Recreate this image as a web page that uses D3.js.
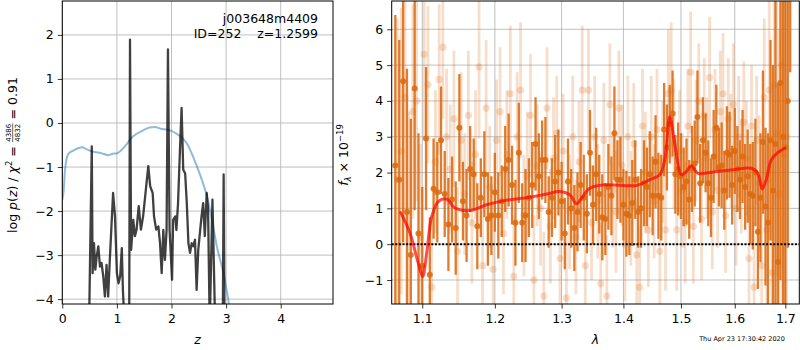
<!DOCTYPE html>
<html>
<head>
<meta charset="utf-8">
<script src="https://cdn.jsdelivr.net/npm/d3@7"></script>
<style>
  body { margin: 0; background: #fff; }
  svg { font-family: 'DejaVu Sans', sans-serif; }
  svg text { white-space: pre; }
</style>
</head>
<body>
<svg id="chart" width="800" height="350"></svg>
<script>
// ---- left panel: log p(z) and prior ----
const pzZ = [0.49, 0.54, 0.555, 0.58, 0.605, 0.63, 0.66, 0.69, 0.72, 0.75, 0.78, 0.81, 0.84, 0.87,
  0.93, 0.965, 1.0, 1.03, 1.06, 1.09, 1.11, 1.14, 1.225, 1.24, 1.26, 1.30, 1.33, 1.36, 1.40, 1.44,
  1.48, 1.53, 1.575, 1.61, 1.655, 1.68, 1.72, 1.76, 1.79, 1.82, 1.85, 1.88, 1.91, 1.935, 1.965,
  2.01, 2.03, 2.07, 2.09, 2.12, 2.155, 2.185, 2.215, 2.25, 2.28, 2.31, 2.34, 2.37, 2.40, 2.43,
  2.46, 2.49, 2.55, 2.58, 2.61, 2.645, 2.67, 2.70, 2.75, 2.80, 2.94, 2.955, 2.97];
const pzLog = [-4.6, -0.53, -3.41, -2.73, -3.33, -3.03, -2.80, -3.26, -3.18, -3.48, -3.94, -3.22, -3.94, -3.11,
  -1.59, -2.12, -3.41, -3.64, -3.48, -2.84, -3.79, -4.6, -4.6, 1.89, -2.88, -2.20, -2.57, -2.42, -1.89, -2.42,
  -2.12, -1.52, -0.98, -1.44, -1.59, -2.12, -2.42, -2.35, -2.73, -3.41, -2.43, -3.11, -2.43, 1.67, -2.43,
  -3.56, -2.20, -2.12, -2.43, -1.82, -0.61, 0.34, -1.06, -1.14, -1.82, -2.73, -2.95, -2.73, -2.80, -2.65,
  -3.79, -2.88, -2.12, -1.82, -2.57, -1.59, -1.97, -4.6, -1.74, -4.6, -4.6, -1.17, -4.6];

const priorZ = [0, 0.024, 0.05, 0.11, 0.21, 0.36, 0.45, 0.51, 0.6, 0.7, 0.85, 0.92, 1.0, 1.06, 1.18,
  1.25, 1.30, 1.48, 1.60, 1.70, 1.80, 1.92, 2.0, 2.10, 2.16, 2.28, 2.40, 2.50, 2.65, 2.75, 2.83,
  2.95, 3.05, 3.1];
const priorLog = [-1.75, -1.55, -1.06, -0.70, -0.62, -0.55, -0.60, -0.63, -0.66, -0.68, -0.73, -0.70,
  -0.69, -0.64, -0.48, -0.36, -0.30, -0.17, -0.10, -0.09, -0.13, -0.15, -0.18, -0.25, -0.30, -0.46,
  -0.78, -1.10, -1.67, -2.25, -2.80, -3.40, -4.09, -4.5];

const zTicks = [0, 1, 2, 3, 4];
const pzTicks = [-4, -3, -2, -1, 0, 1, 2];
const objName = 'j003648m4409';
const objInfo = 'ID=252    z=1.2599';
const chiNum = '4386';
const chiDen = '4832';
const chiRatio = '0.91';

// ---- right panel: spectrum ----
const binLam = [1.065, 1.070, 1.075, 1.080, 1.085, 1.090, 1.095, 1.100, 1.105, 1.110, 1.115, 1.120,
  1.125, 1.130, 1.135, 1.140, 1.145, 1.150, 1.155, 1.160, 1.165, 1.170, 1.175, 1.180, 1.185, 1.190,
  1.195, 1.200, 1.205, 1.210, 1.215, 1.220, 1.225, 1.230, 1.235, 1.240, 1.245, 1.250, 1.255, 1.260,
  1.265, 1.270, 1.275, 1.280, 1.285, 1.290, 1.295, 1.300, 1.305, 1.310, 1.315, 1.320, 1.325, 1.330,
  1.335, 1.340, 1.345, 1.350, 1.355, 1.360, 1.365, 1.370, 1.375, 1.380, 1.385, 1.390, 1.395, 1.400,
  1.405, 1.410, 1.415, 1.420, 1.425, 1.430, 1.435, 1.440, 1.445, 1.450, 1.455, 1.460, 1.465, 1.470,
  1.475, 1.480, 1.485, 1.490, 1.495, 1.500, 1.505, 1.510, 1.515, 1.520, 1.525, 1.530, 1.535, 1.540,
  1.545, 1.550, 1.555, 1.560, 1.565, 1.570, 1.575, 1.580, 1.585, 1.590, 1.595, 1.600, 1.605, 1.610,
  1.615, 1.620, 1.625, 1.630, 1.635, 1.640, 1.645, 1.650, 1.655, 1.660, 1.665, 1.670, 1.675, 1.680,
  1.685, 1.690, 1.695, 1.700, 1.705, 1.710];
const binFlux = [2.2, 1.8, 4.55, 0.9, -0.3, 4.35, 0.3, -0.6, 2.95, -0.85, 1.55, 1.45,
  2.9, 1.4, 0.55, 1.25, 0.45, 3.25, 1.2, 0.8, 2.1, 1.95, 0.5, 1.3, 1.95, 0.7,
  0.8, 1.45, 0.8, 1.2, 2.1, 2.35, 1.65, 0.6, 2.55, 0.6, 0.8, 1.3, 1.65, 2.8,
  1.9, 2.35, 2.35, 0.9, 1.3, 1.75, 2.0, 1.2, 0.3, 1.75, 1.0, 0.45, 0.9, 1.65,
  1.3, 0.85, 2.55, 1.1, 1.95, 1.4, 0.75, 0.7, 1.6, 1.35, 3.1, 1.8, 1.8, 1.1,
  0.85, 0.8, 1.15, 1.8, 0.9, 1.0, 1.7, 1.6, 1.95, 1.35, 2.3, 1.35, 1.3, 3.2,
  2.7, 3.35, 3.65, 1.95, 2.1, 1.9, 1.6, 1.75, 1.25, 2.1, 2.25, 3.55, 1.7, 2.9,
  2.55, 1.7, 1.3, 2.45, 3.25, 2.15, 2.2, 1.5, 2.55, 2.5, 1.65, 2.6, 2.1, 1.8,
  2.45, 1.6, 1.9, 1.4, 1.35, 2.0, 0.35, 1.3, 2.85, 1.05, 0.6, 2.9, 1.5, 2.8,
  -0.5, 4.5, 3.0, 2.7, 4.0, 9.0];
const binErr = [4.2, 3.9, 4.5, 4.0, 3.8, 3.4, 2.8, 2.2, 2.0, 1.6, 1.4, 1.4,
  1.5, 1.2, 1.3, 1.2, 1.3, 1.5, 1.1, 1.3, 1.2, 1.0, 1.2, 1.1, 1.2, 1.3,
  1.1, 1.1, 1.2, 1.0, 1.2, 1.3, 1.1, 1.2, 1.4, 1.1, 1.3, 1.1, 1.2, 1.3,
  1.2, 1.1, 1.2, 1.0, 1.1, 1.3, 1.2, 1.1, 1.0, 1.2, 1.1, 1.2, 1.1, 1.2,
  1.2, 1.1, 1.2, 1.1, 1.3, 1.1, 1.2, 1.0, 1.2, 1.1, 1.3, 1.1, 1.2, 1.0,
  1.2, 1.1, 1.2, 1.1, 1.0, 1.1, 1.2, 1.1, 1.2, 1.1, 1.3, 1.2, 1.2, 1.3,
  1.2, 1.1, 1.2, 1.1, 1.3, 1.2, 1.1, 1.2, 1.1, 1.2, 1.2, 1.3, 1.1, 1.2,
  1.1, 1.2, 1.1, 1.3, 1.2, 1.1, 1.2, 1.1, 1.3, 1.2, 1.1, 1.2, 1.2, 1.1,
  1.3, 1.2, 1.3, 1.4, 1.5, 1.5, 1.6, 1.8, 2.0, 2.2, 2.5, 2.8, 3.5, 4.5,
  5.0, 5.5, 6.0, 7.0, 4.1, 4.2];

const rawLam = [1.0675, 1.0725, 1.0775, 1.0825, 1.0875, 1.0925, 1.0975, 1.1025, 1.1075, 1.1125,
  1.1175, 1.1225, 1.1275, 1.1325, 1.1375, 1.1425, 1.1475, 1.1525, 1.1575, 1.1625, 1.1675, 1.1725,
  1.1775, 1.1825, 1.1875, 1.1925, 1.1975, 1.2025, 1.2075, 1.2125, 1.2175, 1.2225, 1.2275, 1.2325,
  1.2375, 1.2425, 1.2475, 1.2525, 1.2575, 1.2625, 1.2675, 1.2725, 1.2775, 1.2825, 1.2875, 1.2925,
  1.2975, 1.3025, 1.3075, 1.3125, 1.3175, 1.3225, 1.3275, 1.3325, 1.3375, 1.3425, 1.3475, 1.3525,
  1.3575, 1.3625, 1.3675, 1.3725, 1.3775, 1.3825, 1.3875, 1.3925, 1.3975, 1.4025, 1.4075, 1.4125,
  1.4175, 1.4225, 1.4275, 1.4325, 1.4375, 1.4425, 1.4475, 1.4525, 1.4575, 1.4625, 1.4675, 1.4725,
  1.4775, 1.4825, 1.4875, 1.4925, 1.4975, 1.5025, 1.5075, 1.5125, 1.5175, 1.5225, 1.5275, 1.5325,
  1.5375, 1.5425, 1.5475, 1.5525, 1.5575, 1.5625, 1.5675, 1.5725, 1.5775, 1.5825, 1.5875, 1.5925,
  1.5975, 1.6025, 1.6075, 1.6125, 1.6175, 1.6225, 1.6275, 1.6325, 1.6375, 1.6425, 1.6475, 1.6525,
  1.6575, 1.6625, 1.6675, 1.6725, 1.6775, 1.6825, 1.6875, 1.6925, 1.6975, 1.7025];
const rawFlux = [1.8, 2.6, 4.1, 0.5, 3.7, 4.0, 0.2, 5.3, 4.45, -1.2,
  2.3, 4.6, 5.5, 3.0, 2.1, 3.5, -0.2, 2.9, 1.4, 3.6, 0.6, 2.5,
  4.95, -0.6, 3.8, 1.6, -0.7, 2.9, 3.7, 0.3, 2.5, 4.2, -0.9, 3.0,
  4.3, 0.8, 1.9, 3.6, -1.0, 2.2, 1.0, -1.45, 3.8, 0.5, 2.4, 3.1,
  -0.4, 2.6, -1.5, 0.9, 3.0, 0.2, 2.3, 4.3, -0.6, 4.3, 0.6, 3.0,
  1.2, -1.1, 2.9, -1.45, 3.9, 1.5, 0.9, 3.8, 2.2, 0.0, 3.0, 1.0,
  2.8, -0.3, -1.2, 3.3, 2.0, 0.4, 3.0, 1.2, 3.2, -0.2, 2.3, 0.4,
  4.2, 4.3, 2.8, 0.4, 2.6, 1.5, 0.6, 3.3, 4.8, 0.5, 2.9, 4.0,
  0.7, 3.6, 2.4, 4.65, 0.9, 3.2, 1.5, 3.7, 4.2, 0.8, 3.5, 2.6,
  3.9, 1.0, 3.0, 1.9, 3.4, 2.4, -0.4, 3.3, -1.2, 2.9, 1.7, -0.6,
  4.1, 0.4, 4.3, -0.8, 4.45, 3.1, 1.4, 5.0, 2.5, 3.0];
const rawErr = [4.5, 4.0, 3.5, 3.2, 3.0, 2.8, 2.6, 2.4, 2.2, 2.0,
  2.0, 2.1, 2.0, 1.9, 1.8, 1.9, 1.8, 1.9, 1.7, 1.8, 1.7, 1.8,
  2.0, 1.8, 1.9, 1.7, 1.8, 1.7, 1.8, 1.7, 1.8, 1.9, 1.7, 1.8,
  1.9, 1.7, 1.8, 1.7, 1.8, 1.7, 1.6, 1.8, 1.7, 1.6, 1.7, 1.6,
  1.7, 1.6, 1.7, 1.6, 1.7, 1.6, 1.7, 1.8, 1.6, 1.7, 1.6, 1.7,
  1.6, 1.7, 1.6, 1.7, 1.7, 1.6, 1.7, 1.6, 1.7, 1.6, 1.7, 1.6,
  1.7, 1.6, 1.7, 1.6, 1.7, 1.6, 1.7, 1.6, 1.7, 1.6, 1.7, 1.7,
  1.8, 1.9, 1.8, 1.7, 1.7, 1.6, 1.7, 1.6, 1.7, 1.6, 1.7, 1.6,
  1.7, 1.6, 1.7, 1.7, 1.6, 1.7, 1.6, 1.7, 1.7, 1.6, 1.7, 1.6,
  1.7, 1.6, 1.7, 1.6, 1.7, 1.6, 1.7, 1.7, 1.8, 1.8, 1.9, 2.0,
  2.2, 2.4, 2.6, 3.0, 3.4, 4.0, 4.6, 5.0, 5.5, 6.0];

const modelLam = [1.0719, 1.0839, 1.0947, 1.1005, 1.1058, 1.1125, 1.1213, 1.1326, 1.1440, 1.1647,
  1.1881, 1.2120, 1.2514, 1.2767, 1.2972, 1.3128, 1.3234, 1.3314, 1.3446, 1.3718, 1.4221, 1.4449,
  1.4623, 1.4711, 1.4800, 1.4887, 1.5008, 1.5097, 1.5188, 1.5310, 1.5650, 1.5965, 1.6319, 1.6449,
  1.6536, 1.6615, 1.6715, 1.6849, 1.6984];
const modelFlux = [0.88, 0.31, -0.53, -0.90, -0.25, 0.77, 1.19, 1.26, 1.01, 0.94,
  1.10, 1.21, 1.31, 1.40, 1.47, 1.38, 1.13, 1.28, 1.56, 1.66, 1.64, 1.80,
  1.94, 2.35, 3.56, 2.82, 1.94, 2.03, 2.19, 1.98, 2.03, 2.08, 2.12, 1.98,
  1.54, 1.80, 2.35, 2.56, 2.68];

const lamTicks = [1.1, 1.2, 1.3, 1.4, 1.5, 1.6, 1.7];
const fluxTicks = [-1, 0, 1, 2, 3, 4, 5, 6];
const stamp = 'Thu Apr 23 17:30:42 2020';

// ---- helpers ----
const svg = d3.select('#chart');
const FONT = 12.5;
const GRID = '#b0b0b0';

const drawGrid = ({g, xScale, yScale, xTicks, yTicks, box}) => {
  const grid = g.append('g').attr('stroke', GRID).attr('stroke-width', 0.8);
  grid.selectAll('line.gx').data(xTicks).join('line')
    .attr('class', 'gx')
    .attr('x1', d => xScale(d)).attr('x2', d => xScale(d))
    .attr('y1', box.y0).attr('y2', box.y1);
  grid.selectAll('line.gy').data(yTicks).join('line')
    .attr('class', 'gy')
    .attr('x1', box.x0).attr('x2', box.x1)
    .attr('y1', d => yScale(d)).attr('y2', d => yScale(d));
};

const styleAxis = (sel) => {
  sel.attr('font-family', 'DejaVu Sans').attr('font-size', FONT);
  sel.select('.domain').remove();
  sel.selectAll('.tick line').attr('stroke', '#000').attr('stroke-width', 0.8);
  sel.selectAll('.tick text').attr('fill', '#000');
};

const drawAxes = ({g, xScale, yScale, xTicks, yTicks, xFormat, box}) => {
  g.append('g')
    .attr('transform', `translate(0,${box.y1})`)
    .call(d3.axisBottom(xScale).tickValues(xTicks).tickFormat(xFormat)
      .tickSize(4.5).tickPadding(5.5))
    .call(styleAxis);
  g.append('g')
    .attr('transform', `translate(${box.x0},0)`)
    .call(d3.axisLeft(yScale).tickValues(yTicks).tickFormat(d3.format('d'))
      .tickSize(4.5).tickPadding(4))
    .call(styleAxis);
  g.append('rect')
    .attr('x', box.x0).attr('y', box.y0)
    .attr('width', box.x1 - box.x0).attr('height', box.y1 - box.y0)
    .attr('fill', 'none').attr('stroke', '#000').attr('stroke-width', 1);
};

const addClip = (id, box) => {
  svg.append('clipPath').attr('id', id).append('rect')
    .attr('x', box.x0).attr('y', box.y0)
    .attr('width', box.x1 - box.x0).attr('height', box.y1 - box.y0);
};

// ---- left panel ----
const leftBox = {x0: 62.3, x1: 333, y0: 1, y1: 304};
const zScale = d3.scaleLinear().domain([0, 4.958]).range([leftBox.x0, leftBox.x1]);
const pzScale = d3.scaleLinear().domain([-4.11, 2.77]).range([leftBox.y1, leftBox.y0]);
addClip('clip-left', leftBox);

const left = svg.append('g').attr('class', 'pz-panel');
drawGrid({g: left, xScale: zScale, yScale: pzScale, xTicks: zTicks, yTicks: pzTicks, box: leftBox});

const leftPlot = left.append('g').attr('clip-path', 'url(#clip-left)');
leftPlot.append('path')
  .datum(d3.zip(priorZ, priorLog))
  .attr('fill', 'none')
  .attr('stroke', '#1f77b4').attr('stroke-opacity', 0.5).attr('stroke-width', 2)
  .attr('d', d3.line().x(d => zScale(d[0])).y(d => pzScale(d[1])).curve(d3.curveMonotoneX));
leftPlot.append('path')
  .datum(d3.zip(pzZ, pzLog))
  .attr('fill', 'none')
  .attr('stroke', '#000').attr('stroke-opacity', 0.75).attr('stroke-width', 2.3)
  .attr('stroke-linejoin', 'round')
  .attr('d', d3.line().x(d => zScale(d[0])).y(d => pzScale(d[1])));

drawAxes({g: left, xScale: zScale, yScale: pzScale, xTicks: zTicks, yTicks: pzTicks,
  xFormat: d3.format('d'), box: leftBox});

left.append('text').attr('x', 318).attr('y', 23).attr('text-anchor', 'end')
  .attr('font-size', FONT).text(objName);
left.append('text').attr('x', 318).attr('y', 38).attr('text-anchor', 'end')
  .attr('font-size', FONT).text(objInfo);

left.append('text').attr('x', (leftBox.x0 + leftBox.x1) / 2).attr('y', 344)
  .attr('text-anchor', 'middle').attr('font-size', FONT).attr('font-style', 'italic').text('z');

// y label with stacked fraction
const yLab = svg.append('g');
const part1 = yLab.append('text').attr('font-size', FONT);
part1.append('tspan').text('log ');
part1.append('tspan').attr('font-style', 'italic').text('p');
part1.append('tspan').text('(');
part1.append('tspan').attr('font-style', 'italic').text('z');
part1.append('tspan').text(') / ');
part1.append('tspan').attr('font-style', 'italic').text('χ');
part1.append('tspan').attr('font-size', 8.5).attr('dy', -5).text('2');
part1.append('tspan').attr('dy', 5).text(' = ');
const w1 = part1.node().getComputedTextLength();
const num = yLab.append('text').attr('font-size', 7).attr('text-anchor', 'middle').text(chiNum);
const den = yLab.append('text').attr('font-size', 7).attr('text-anchor', 'middle').text(chiDen);
const fw = Math.max(num.node().getComputedTextLength(), den.node().getComputedTextLength()) + 1;
num.attr('x', w1 + fw / 2).attr('y', -5.5);
den.attr('x', w1 + fw / 2).attr('y', 3.5);
yLab.append('line').attr('x1', w1).attr('x2', w1 + fw).attr('y1', -3.8).attr('y2', -3.8)
  .attr('stroke', '#000').attr('stroke-width', 0.6);
const part3 = yLab.append('text').attr('font-size', FONT).attr('x', w1 + fw).text(` = ${chiRatio}`);
const total = w1 + fw + part3.node().getComputedTextLength();
yLab.attr('transform', `translate(16.5,${155 + total / 2}) rotate(-90)`);

// ---- right panel ----
const rightBox = {x0: 391.7, x1: 799.3, y0: 1, y1: 304};
const lamScale = d3.scaleLog().domain([1.0604, 1.7287]).range([rightBox.x0, rightBox.x1]);
const fluxScale = d3.scaleLinear().domain([-1.67, 6.79]).range([rightBox.y1, rightBox.y0]);
addClip('clip-right', rightBox);

const right = svg.append('g').attr('class', 'spec-panel');
drawGrid({g: right, xScale: lamScale, yScale: fluxScale, xTicks: lamTicks, yTicks: fluxTicks, box: rightBox});

const rightPlot = right.append('g').attr('clip-path', 'url(#clip-right)');
const ORANGE = '#dc6a10';

const drawErrorbars = ({g, lam, flux, err, opacity, r, width}) => {
  const pts = d3.zip(lam, flux, err);
  g.append('g').selectAll('line').data(pts).join('line')
    .attr('x1', d => lamScale(d[0])).attr('x2', d => lamScale(d[0]))
    .attr('y1', d => fluxScale(d[1] - d[2])).attr('y2', d => fluxScale(d[1] + d[2]))
    .attr('stroke', ORANGE).attr('stroke-opacity', opacity).attr('stroke-width', width);
  g.append('g').selectAll('circle').data(pts).join('circle')
    .attr('cx', d => lamScale(d[0])).attr('cy', d => fluxScale(d[1]))
    .attr('r', r).attr('fill', ORANGE).attr('fill-opacity', opacity);
};

drawErrorbars({g: rightPlot, lam: rawLam, flux: rawFlux, err: rawErr, opacity: 0.22, r: 3.6, width: 2.8});
drawErrorbars({g: rightPlot, lam: binLam, flux: binFlux, err: binErr, opacity: 0.88, r: 3, width: 2.3});

rightPlot.append('line')
  .attr('x1', rightBox.x0).attr('x2', rightBox.x1)
  .attr('y1', fluxScale(0)).attr('y2', fluxScale(0))
  .attr('stroke', '#000').attr('stroke-width', 2).attr('stroke-dasharray', '2,1.6');

rightPlot.append('path')
  .datum(d3.zip(modelLam, modelFlux))
  .attr('fill', 'none')
  .attr('stroke', 'red').attr('stroke-opacity', 0.7).attr('stroke-width', 3)
  .attr('stroke-linejoin', 'round').attr('stroke-linecap', 'round')
  .attr('d', d3.line().x(d => lamScale(d[0])).y(d => fluxScale(d[1])).curve(d3.curveCatmullRom));

drawAxes({g: right, xScale: lamScale, yScale: fluxScale, xTicks: lamTicks, yTicks: fluxTicks,
  xFormat: d3.format('.1f'), box: rightBox});

right.append('text').attr('x', (rightBox.x0 + rightBox.x1) / 2).attr('y', 344)
  .attr('text-anchor', 'middle').attr('font-size', FONT).attr('font-style', 'italic').text('λ');

const fLab = right.append('text')
  .attr('transform', 'translate(348,155) rotate(-90)')
  .attr('text-anchor', 'middle').attr('font-size', FONT);
fLab.append('tspan').attr('font-style', 'italic').text('f');
fLab.append('tspan').attr('font-style', 'italic').attr('font-size', 8.5).attr('dy', 3).text('λ');
fLab.append('tspan').attr('dy', -3).text(' × 10');
fLab.append('tspan').attr('font-size', 8.5).attr('dy', -5).text('−19');

svg.append('text').attr('x', 742).attr('y', 341).attr('text-anchor', 'middle')
  .attr('font-size', 6.5).text(stamp);
</script>
</body>
</html>
